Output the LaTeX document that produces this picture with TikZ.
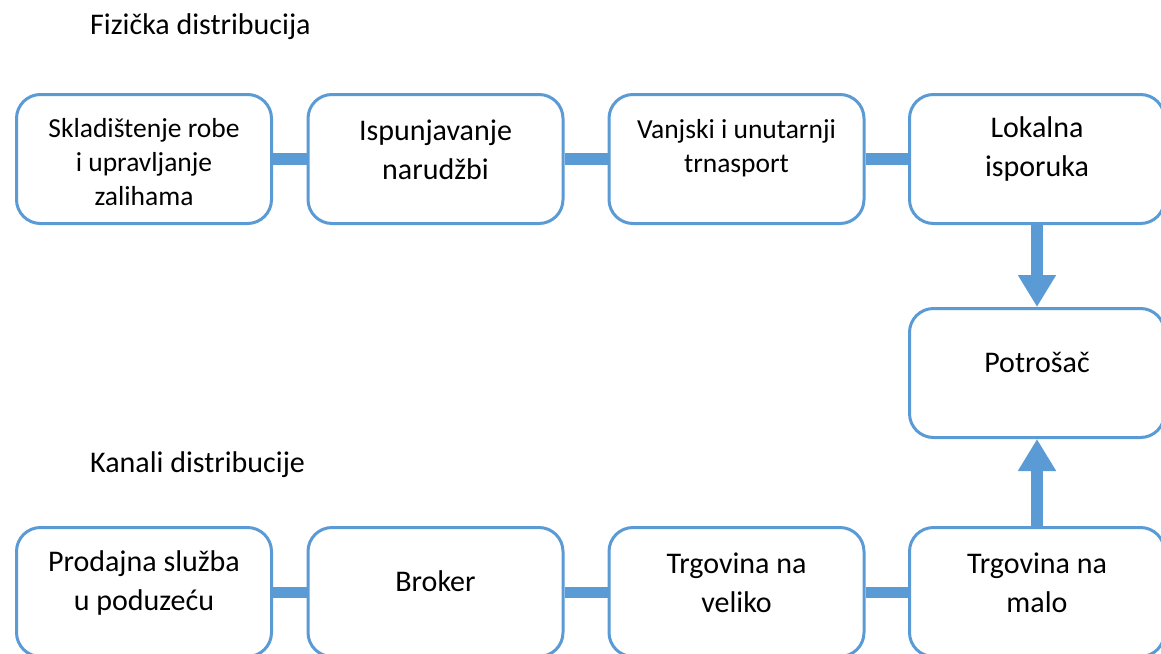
\documentclass[tikz,border=0pt]{standalone}
\usepackage{fontspec}
\setmainfont{Carlito}
\usetikzlibrary{arrows.meta}
\definecolor{wordblue}{RGB}{91,155,213}
\tikzset{
  box/.style={draw=wordblue, line width=3pt, rounded corners=24pt, minimum width=255pt, minimum height=129pt, inner sep=0pt, fill=white},
  big/.style={font=\fontsize{30}{39}\selectfont, align=center, text=black, inner sep=0pt},
  small/.style={font=\fontsize{27.5}{34}\selectfont, align=center, text=black, inner sep=0pt},
  title/.style={font=\fontsize{30}{36}\selectfont, anchor=west, text=black, inner sep=0pt},
  conn/.style={draw=wordblue, line width=12pt},
  connb/.style={draw=wordblue, line width=11pt},
  flow/.style={draw=wordblue, line width=12pt, -{Triangle[width=36pt,length=32pt]}, shorten >=0pt},
}
\begin{document}
\begin{tikzpicture}[x=1pt, y=-1pt]
\useasboundingbox (0,0) rectangle (1161,653);
\clip (0,0) rectangle (1161,653);
\fill[white] (0,0) rectangle (1161,653);

% titles
\node[title] (tf) at (90,27) {Fizička distribucija};
\node[title] (tk) at (90,465) {Kanali distribucije};

% top row
\node[box] (b1) at (144,159) {};
\node[box] (b2) at (435.5,159) {};
\node[box] (b3) at (736.5,159) {};
\node[box] (b4) at (1037,159) {};
% consumer
\node[box] (p) at (1037,373) {};
% bottom row
\node[box] (c1) at (144,592) {};
\node[box] (c2) at (435.5,592) {};
\node[box] (c3) at (736.5,592) {};
\node[box] (c4) at (1037,592) {};

% connectors
\draw[conn] (b1.east) -- (b2.west);
\draw[conn] (b2.east) -- (b3.west);
\draw[conn] (b3.east) -- (b4.west);
\draw[connb] (c1.east) -- (c2.west);
\draw[connb] (c2.east) -- (c3.west);
\draw[connb] (c3.east) -- (c4.west);
\draw[flow] (b4.south) -- (p.north);
\draw[flow] (c4.north) -- (p.south);

% texts
\node[small] (t1) at (144,162) {Skladištenje robe\\i upravljanje\\zalihama};
\node[big] (t2) at (435.5,150) {Ispunjavanje\\narudžbi};
\node[small] (t3) at (736.5,148) {Vanjski i unutarnji\\trnasport};
\node[big] (t4) at (1037,149) {Lokalna\\isporuka};
\node[big] (tp) at (1037,362) {Potrošač};
\node[big] (u1) at (144,583) {Prodajna služba\\u poduzeću};
\node[big] (u2) at (435.5,581) {Broker};
\node[big] (u3) at (736.5,583) {Trgovina na\\veliko};
\node[big] (u4) at (1037,583) {Trgovina na\\malo};
\end{tikzpicture}
\end{document}
